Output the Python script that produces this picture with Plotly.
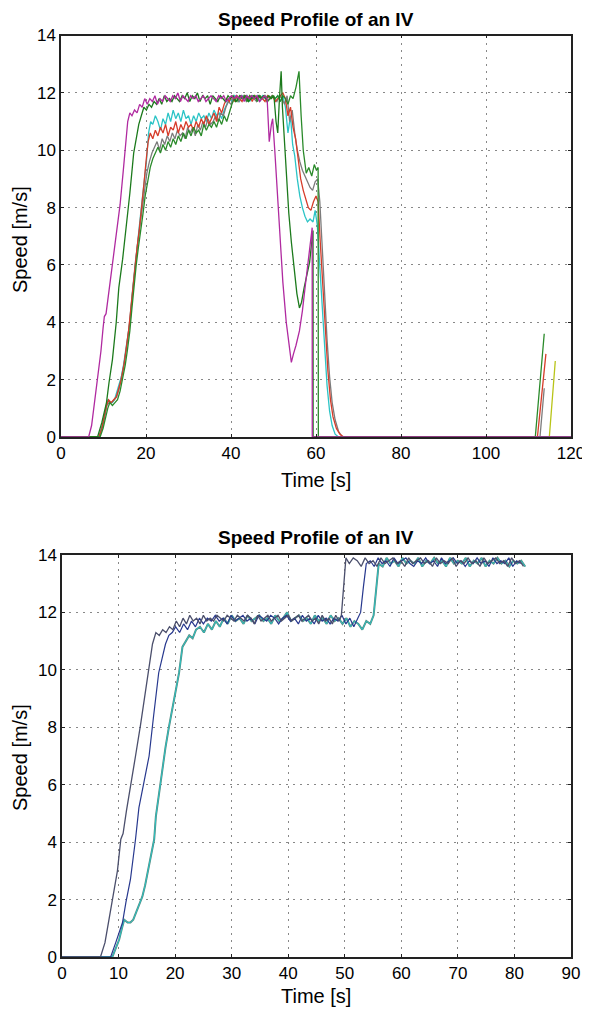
import plotly.graph_objects as go

# ---------------- TOP CHART DATA ----------------
A_t = [0, 6.5, 7.2, 8.0, 8.8, 9.4, 9.9, 10.2, 10.6, 11.2, 12.1, 13.0, 13.9, 14.6, 15.2, 15.7, 16.2,
       16.7, 17.3, 17.9, 18.5, 19.1, 19.7, 20.3, 20.9, 21.5, 22.1, 22.7, 23.3, 23.9, 24.5, 25.1, 25.7,
       26.3, 26.9, 27.5, 28.1, 28.7, 29.3, 29.9, 30.5, 31.1, 31.7, 32.3, 32.9, 33.5, 34.1, 34.7, 35.3,
       35.9, 36.5, 37.1, 37.7, 38.3, 38.9, 39.5, 40.1, 40.7, 41.3, 41.9, 42.5, 43.1, 43.7, 44.3, 44.9,
       45.5, 46.1, 46.7, 47.3, 47.9, 48.5, 49.0, 49.5, 49.8, 50.3, 51.0, 51.6, 52.2, 53.0, 53.6, 54.2,
       54.7, 55.3, 56.1, 56.8, 57.5, 58.2, 58.9, 59.1, 59.12, 120]
A_v = [0, 0, 0.4, 1.3, 2.3, 3.0, 3.8, 4.2, 4.3, 5.0, 6.1, 7.0, 8.1, 9.2, 10.1, 11.0, 11.3,
       11.2, 11.4, 11.3, 11.6, 11.5, 11.8, 11.6, 11.8, 11.7, 11.9, 11.6, 11.8, 11.7, 11.9, 11.8, 11.7,
       11.9, 11.8, 12.0, 11.7, 11.9, 11.8, 11.7, 11.9, 11.8, 11.9, 11.7, 11.8, 11.9, 11.7, 11.8, 11.9,
       11.8, 11.7, 11.9, 11.8, 11.9, 11.7, 11.8, 11.9, 11.8, 11.9, 11.8, 11.9, 11.7, 11.9, 11.8, 11.9,
       11.8, 11.9, 11.7, 11.8, 11.9, 11.8, 10.3, 10.9, 11.1, 10.0, 8.2, 6.6, 5.4, 4.0, 3.2, 2.6,
       2.9, 3.2, 3.7, 4.4, 5.3, 6.2, 7.2, 7.3, 0, 0]

B_t = [0, 8.6, 9.6, 10.7, 11.3, 12.1, 13.0, 13.6, 14.5, 15.3, 16.2, 17.1, 17.7, 18.3, 18.9, 19.5,
       20.1, 20.7, 21.3, 21.9, 22.5, 23.1, 23.7, 24.3, 24.9, 25.5, 26.1, 26.7, 27.3, 27.9, 28.5, 29.1,
       29.7, 30.3, 30.9, 31.5, 32.1, 32.7, 33.3, 33.9, 34.5, 35.1, 35.7, 36.3, 36.9, 37.5, 38.1, 38.7,
       39.3, 39.9, 40.5, 41.1, 41.7, 42.3, 42.9, 43.5, 44.1, 44.7, 45.3, 45.9, 46.5, 47.1, 47.7, 48.3,
       48.9, 49.5, 50.1, 50.6, 51.0, 51.4, 51.8, 52.1, 52.5, 53.0, 53.6, 54.2, 54.8, 55.5, 56.1, 56.6,
       57.2, 57.9, 58.5, 59.0, 59.3, 59.32, 120]
B_v = [0, 0, 0.5, 1.2, 1.9, 2.7, 4.0, 5.2, 6.2, 7.2, 8.5, 9.9, 10.4, 10.9, 11.2, 11.5,
       11.4, 11.6, 11.5, 11.7, 11.6, 11.8, 11.6, 11.9, 11.7, 11.8, 11.7, 11.9, 11.8, 11.7, 11.9, 11.8,
       12.0, 11.7, 11.9, 11.8, 12.0, 11.7, 11.9, 11.8, 11.9, 11.6, 11.9, 11.8, 11.7, 11.9, 11.8, 11.7,
       11.9, 11.8, 11.9, 11.7, 11.8, 11.9, 11.8, 11.9, 11.7, 11.8, 11.9, 11.8, 11.9, 11.8, 11.9, 11.8,
       11.9, 11.8, 11.9, 11.0, 10.6, 11.8, 12.75, 11.5, 10.5, 9.2, 7.8, 6.8, 5.9, 5.0, 4.5, 4.7,
       5.2, 5.7, 6.1, 6.8, 7.2, 0, 0]

C_t = [0, 9.2, 9.9, 10.5, 11.0, 11.5, 12.1, 12.7, 13.3, 13.9, 14.5, 15.1, 15.6, 16.2, 16.7, 17.2,
       17.7, 18.2, 18.7, 19.3, 19.8, 20.4, 21.0, 21.6,
       22.2, 22.8, 23.4, 24.0, 24.6, 25.2, 25.8, 26.4, 27.0, 27.6, 28.2, 28.8, 29.4, 30.0, 30.6, 31.2,
       31.8, 32.4, 33.0, 33.6, 34.2, 34.8, 35.4, 36.0, 36.6, 37.2, 37.8, 38.4, 39.0, 39.6, 40.2, 40.8,
       41.4, 42.0, 42.6, 43.2, 43.8, 44.4, 45.0, 45.6, 46.2, 46.8, 47.4, 48.0, 48.6, 49.2, 49.8, 50.4,
       51.0, 51.6, 52.2, 52.8, 53.4, 54.0, 54.6, 55.3, 56.0, 56.5, 57.0, 57.7, 58.3, 59.0, 59.6, 60.1,
       60.5, 60.55, 111.6, 113.7]
C_v = [0, 0, 0.3, 0.7, 1.0, 1.2, 1.1, 1.2, 1.3, 1.6, 2.0, 2.5, 3.0, 3.7, 4.5, 5.3,
       6.0, 6.6, 7.1, 7.8, 8.4, 8.9, 9.4, 9.7,
       9.9, 10.1, 9.9, 10.2, 10.0, 10.3, 10.1, 10.4, 10.2, 10.5, 10.3, 10.6, 10.4, 10.7, 10.5, 10.8,
       10.6, 10.7, 10.5, 10.9, 10.7, 10.9, 10.8, 11.0, 10.8, 11.1, 10.9, 11.2, 11.0, 11.3, 11.6, 11.8,
       11.7, 11.9, 11.8, 11.9, 11.7, 11.9, 11.8, 11.9, 11.7, 11.9, 11.8, 11.9, 11.7, 11.8, 11.9, 11.8,
       11.9, 11.7, 11.9, 11.8, 11.6, 11.9, 11.8, 12.2, 12.75, 11.2, 10.0, 9.2, 9.4, 9.1, 9.5, 9.3,
       9.4, 0, 0, 3.6]

D_t = [0, 9.0, 9.7, 10.3, 10.8, 11.3, 11.9, 12.5, 13.1, 13.7, 14.3, 14.9, 15.4, 16.0, 16.5, 17.0,
       17.5, 18.0, 18.5, 19.1, 19.6, 20.2, 20.8, 21.4, 22.0,
       22.6, 23.2, 23.8, 24.4, 25.0, 25.6, 26.2, 26.8, 27.4, 28.0, 28.6, 29.2, 29.8, 30.4, 31.0, 31.6,
       32.2, 32.8, 33.4, 34.0, 34.6, 35.2, 35.8, 36.4, 37.0, 37.6, 38.2, 38.8, 39.4, 40.0, 40.6, 41.2,
       41.8, 42.4, 43.0, 43.6, 44.2, 44.8, 45.4, 46.0, 46.6, 47.2, 47.8, 48.4, 49.0, 49.6, 50.2, 50.8,
       51.4, 52.0, 52.6, 53.2, 53.8, 54.4, 55.0, 55.6, 56.2, 56.8, 57.4, 58.0, 58.6, 59.2, 59.8, 60.4,
       60.9, 61.4, 62.0, 62.6, 63.2, 63.8, 64.5, 65.3, 66.2, 112.7, 113.7]
D_v = [0, 0, 0.3, 0.7, 1.1, 1.2, 1.2, 1.3, 1.4, 1.7, 2.1, 2.6, 3.1, 3.8, 4.6, 5.4,
       6.1, 6.7, 7.3, 8.0, 8.6, 9.2, 9.6, 9.9, 10.1,
       10.3, 10.0, 10.4, 10.2, 10.5, 10.3, 10.6, 10.4, 10.7, 10.5, 10.6, 10.4, 10.8, 10.6, 10.8, 10.5,
       10.9, 10.7, 11.0, 10.8, 11.1, 10.9, 11.0, 11.2, 11.0, 11.3, 11.2, 11.5, 11.7, 11.6, 11.8, 11.9,
       11.7, 11.8, 11.9, 11.7, 11.8, 11.9, 11.8, 11.7, 11.9, 11.8, 11.9, 11.7, 11.8, 11.9, 11.8, 11.7,
       11.9, 11.8, 11.6, 11.9, 11.0, 11.4, 10.6, 10.0, 9.6, 9.3, 9.1, 8.9, 8.7, 8.6, 8.9, 9.0,
       8.2, 6.8, 5.0, 3.4, 2.1, 1.2, 0.6, 0.2, 0, 0, 1.7]

E_t = [0, 8.9, 9.6, 10.2, 10.7, 11.2, 11.8, 12.4, 13.0, 13.6, 14.2, 14.8, 15.3, 15.9, 16.4, 16.9,
       17.4, 17.9, 18.4, 19.0, 19.5, 20.0,
       20.5, 21.0, 21.6, 22.2, 22.8, 23.4, 24.0, 24.6, 25.2, 25.8, 26.4, 27.0, 27.6, 28.2, 28.8, 29.4,
       30.0, 30.6, 31.2, 31.8, 32.4, 33.0, 33.6, 34.2, 34.8, 35.4, 36.0, 36.6, 37.2, 37.8, 38.4, 39.0,
       39.6, 40.2, 40.8, 41.4, 42.0, 42.6, 43.2, 43.8, 44.4, 45.0, 45.6, 46.2, 46.8, 47.4, 48.0, 48.6,
       49.2, 49.8, 50.4, 51.0, 51.6, 52.2, 52.8, 53.4, 54.0, 54.6, 55.2, 55.8, 56.4, 57.0, 57.6, 58.2,
       58.8, 59.4, 60.0, 60.5, 61.0, 61.6, 62.2, 62.8, 63.4, 64.0, 64.8, 65.6, 66.5, 112.1, 114.1]
E_v = [0, 0, 0.3, 0.7, 1.1, 1.3, 1.2, 1.3, 1.4, 1.7, 2.0, 2.5, 3.0, 3.7, 4.4, 5.2,
       6.0, 6.6, 7.2, 8.0, 8.8, 9.6,
       10.3, 10.6, 10.4, 10.7, 10.5, 10.8, 10.6, 10.9, 10.5, 10.8, 10.7, 11.0, 10.6, 10.9, 10.7, 11.0,
       10.8, 10.9, 10.7, 11.0, 10.8, 11.1, 10.9, 11.2, 10.9, 11.1, 11.3, 11.0, 11.5, 11.3, 11.6, 11.8,
       11.7, 11.9, 11.7, 11.9, 11.8, 11.7, 11.9, 11.8, 11.9, 11.7, 11.9, 11.8, 11.9, 11.8, 11.7, 11.9,
       11.8, 11.9, 11.7, 11.8, 11.9, 12.0, 11.8, 11.2, 11.5, 10.8, 10.4, 9.6, 9.0, 8.6, 8.3, 8.0,
       7.9, 8.2, 8.4, 8.2, 6.8, 5.2, 3.6, 2.3, 1.3, 0.7, 0.3, 0.1, 0, 0, 2.9]

F_t = [0, 8.9, 9.5, 10.1, 10.6, 11.0, 11.6, 12.1, 12.6, 13.0, 13.6, 14.2, 14.7, 15.1, 15.7, 16.3,
       16.8, 17.3, 17.8, 18.4, 18.9, 19.5, 20.1, 20.6,
       21.1, 21.6, 22.2, 22.8, 23.4, 24.0, 24.6, 25.2, 25.8, 26.4, 27.0, 27.6, 28.2, 28.8, 29.4, 30.0,
       30.6, 31.2, 31.8, 32.4, 33.0, 33.6, 34.2, 34.8, 35.4, 36.0, 36.6, 37.2, 37.8, 38.4, 39.0, 39.6,
       40.2, 40.8, 41.4, 42.0, 42.6, 43.2, 43.8, 44.4, 45.0, 45.6, 46.2, 46.8, 47.4, 48.0, 48.6, 49.2,
       49.8, 50.4, 51.0, 51.6, 52.2, 52.8, 53.4, 54.0, 54.5, 55.0, 55.6, 56.2, 56.8, 57.4, 58.0, 58.6,
       59.3, 59.8, 60.3, 60.8, 61.4, 62.0, 62.6, 63.2, 63.8, 64.5, 65.3, 120]
F_v = [0, 0, 0.3, 0.6, 1.0, 1.3, 1.2, 1.2, 1.3, 1.5, 1.8, 2.1, 2.5, 2.9, 3.5, 4.1,
       5.0, 5.8, 6.5, 7.3, 8.0, 8.7, 9.6, 10.6,
       11.0, 10.9, 11.2, 11.0, 10.7, 11.1, 10.9, 11.3, 11.0, 11.4, 11.1, 11.3, 11.0, 11.4, 11.1, 11.2,
       10.9, 11.2, 11.0, 11.3, 11.1, 11.2, 11.0, 11.3, 11.1, 11.4, 11.2, 11.3, 11.1, 11.4, 11.6, 11.8,
       11.7, 11.9, 11.8, 11.7, 11.9, 11.8, 11.9, 11.7, 11.9, 11.8, 11.9, 11.7, 11.9, 11.8, 11.9, 11.8,
       11.9, 11.8, 11.9, 11.7, 11.9, 11.5, 10.6, 11.2, 10.2, 9.8, 9.0, 8.4, 8.0, 7.7, 7.5, 7.6,
       7.5, 7.9, 7.4, 6.2, 4.5, 3.0, 1.8, 0.9, 0.4, 0.1, 0, 0]

G_t = [100, 114.9, 116.3]
G_v = [0, 0, 2.65]

# ---------------- BOTTOM CHART DATA ----------------
P_t = [0, 6.8, 7.6, 8.4, 9.1, 9.8, 10.4, 10.8, 11.4, 12.1, 13.0, 13.9, 14.7, 15.4, 16.0, 16.6,
       17.2, 17.8, 18.4, 19.0, 19.6, 20.2, 20.8, 21.4, 22.0, 22.6, 23.2, 23.8, 24.4, 25.0, 25.6, 26.2,
       26.8, 27.4, 28.0, 28.6, 29.2, 29.8, 30.4, 31.0, 31.6, 32.2, 32.8, 33.4, 34.0, 34.6, 35.2, 35.8,
       36.4, 37.0, 37.6, 38.2, 38.8, 39.4, 40.0, 40.6, 41.2, 41.8, 42.4, 43.0, 43.6, 44.2, 44.8, 45.4,
       46.0, 46.6, 47.2, 47.8, 48.4, 49.0, 49.4, 49.8, 50.2,
       50.8, 51.5, 52.2, 52.9, 53.6, 54.3, 55.0, 55.7, 56.4, 57.1, 57.8, 58.5, 59.2, 59.9, 60.6, 61.3,
       62.0, 62.7, 63.4, 64.1, 64.8, 65.5, 66.2, 66.9, 67.6, 68.3, 69.0, 69.7, 70.4, 71.1, 71.8, 72.5,
       73.2, 73.9, 74.6, 75.3, 76.0, 76.7, 77.4, 78.1, 78.8, 79.5, 80.2, 80.9, 81.6]
P_v = [0, 0, 0.5, 1.4, 2.3, 3.0, 4.1, 4.3, 5.1, 6.0, 7.0, 8.1, 9.2, 10.2, 10.9, 11.3,
       11.2, 11.4, 11.3, 11.5, 11.4, 11.7, 11.5, 11.8, 11.6, 11.9, 11.7, 11.8, 11.6, 11.9, 11.7, 11.8,
       11.7, 11.9, 11.8, 11.7, 11.9, 11.8, 11.7, 11.9, 11.8, 11.7, 11.9, 11.8, 11.6, 11.9, 11.7, 11.8,
       11.9, 11.7, 11.8, 11.9, 11.7, 11.8, 11.9, 11.7, 11.8, 11.9, 11.7, 11.8, 11.9, 11.7, 11.8, 11.6,
       11.9, 11.7, 11.8, 11.6, 11.9, 11.7, 11.9, 12.9, 13.9,
       13.7, 13.9, 13.8, 13.6, 13.9, 13.7, 13.8, 13.6, 13.9, 13.7, 13.8, 13.9, 13.7, 13.8, 13.6, 13.9,
       13.7, 13.8, 13.9, 13.7, 13.8, 13.6, 13.9, 13.7, 13.8, 13.7, 13.9, 13.6, 13.8, 13.7, 13.9, 13.7,
       13.8, 13.6, 13.9, 13.7, 13.8, 13.9, 13.7, 13.8, 13.6, 13.9, 13.7, 13.8, 13.6]

Q_t = [0, 8.6, 9.5, 10.7, 11.3, 12.1, 13.0, 13.6, 14.5, 15.4, 16.2, 17.1, 17.7, 18.3, 18.9, 19.5,
       20.1, 20.8, 21.5, 22.2, 22.9, 23.6, 24.3, 25.0, 25.7, 26.4, 27.1, 27.8, 28.5, 29.2, 29.9, 30.6,
       31.3, 32.0, 32.7, 33.4, 34.1, 34.8, 35.5, 36.2, 36.9, 37.6, 38.3, 39.0, 39.7, 40.4, 41.1, 41.8,
       42.5, 43.2, 43.9, 44.6, 45.3, 46.0, 46.7, 47.4, 48.1, 48.8, 49.5, 50.2, 50.9, 51.6, 52.3, 52.8,
       53.3, 53.8, 54.5, 55.2, 55.9, 56.6, 57.3, 58.0, 58.7, 59.4, 60.1, 60.8, 61.5, 62.2, 62.9, 63.6,
       64.3, 65.0, 65.7, 66.4, 67.1, 67.8, 68.5, 69.2, 69.9, 70.6, 71.3, 72.0, 72.7, 73.4, 74.1, 74.8,
       75.5, 76.2, 76.9, 77.6, 78.3, 79.0, 79.7, 80.4, 81.1]
Q_v = [0, 0, 0.5, 1.2, 1.9, 2.7, 4.1, 5.2, 6.1, 7.0, 8.4, 9.9, 10.4, 10.9, 11.2, 11.3,
       11.5, 11.3, 11.6, 11.4, 11.7, 11.5, 11.8, 11.6, 11.8, 11.7, 11.9, 11.7, 11.8, 11.6, 11.9, 11.7,
       11.8, 11.9, 11.7, 11.8, 11.6, 11.9, 11.8, 11.7, 11.9, 11.8, 11.6, 11.8, 11.9, 11.7, 11.8, 11.6,
       11.9, 11.7, 11.8, 11.6, 11.9, 11.7, 11.8, 11.6, 11.8, 11.7, 11.9, 11.6, 11.8, 11.5, 11.8, 12.0,
       12.9, 13.7, 13.8, 13.6, 13.9, 13.7, 13.8, 13.6, 13.9, 13.7, 13.8, 13.9, 13.7, 13.6, 13.8, 13.7,
       13.9, 13.7, 13.8, 13.6, 13.9, 13.7, 13.8, 13.9, 13.7, 13.8, 13.6, 13.8, 13.7, 13.9, 13.7, 13.8,
       13.6, 13.9, 13.7, 13.8, 13.7, 13.9, 13.6, 13.8, 13.7]

R_t = [0, 8.9, 9.5, 10.1, 10.6, 11.0, 11.6, 12.1, 12.6, 13.0, 13.6, 14.2, 14.7, 15.1, 15.7, 16.3,
       16.6, 17.2, 17.7, 18.3, 18.9, 19.5, 20.1, 20.7, 21.3, 21.9, 22.5, 23.1, 23.7,
       24.4, 25.1, 25.8, 26.5, 27.2, 27.9, 28.6, 29.3, 30.0, 30.7, 31.4, 32.1, 32.8, 33.5, 34.2, 34.9,
       35.6, 36.3, 37.0, 37.7, 38.4, 39.1, 39.8, 40.5, 41.2, 41.9, 42.6, 43.3, 44.0, 44.7, 45.4, 46.1,
       46.8, 47.5, 48.2, 48.9, 49.6, 50.3, 51.0, 51.7, 52.4, 53.1, 53.8, 54.5, 55.1, 55.6, 56.0,
       56.7, 57.4, 58.1, 58.8, 59.5, 60.2, 60.9, 61.6, 62.3, 63.0, 63.7, 64.4, 65.1, 65.8, 66.5, 67.2,
       67.9, 68.6, 69.3, 70.0, 70.7, 71.4, 72.1, 72.8, 73.5, 74.2, 74.9, 75.6, 76.3, 77.0, 77.7, 78.4,
       79.1, 79.8, 80.5, 81.2, 81.9]
R_v = [0, 0, 0.3, 0.6, 1.0, 1.3, 1.2, 1.2, 1.3, 1.5, 1.8, 2.1, 2.5, 2.9, 3.5, 4.1,
       4.9, 5.8, 6.6, 7.3, 8.0, 8.6, 9.2, 9.9, 10.8, 11.0, 11.2, 11.1, 11.4,
       11.5, 11.3, 11.6, 11.4, 11.7, 11.5, 11.8, 11.6, 11.9, 11.7, 11.8, 11.6, 11.9, 11.7, 11.8, 11.9,
       11.7, 11.8, 11.6, 11.9, 11.7, 11.8, 12.0, 11.7, 11.8, 11.9, 11.7, 11.8, 11.6, 11.9, 11.7, 11.8,
       11.6, 11.9, 11.7, 11.8, 11.6, 11.8, 11.5, 11.7, 11.6, 11.4, 11.7, 11.6, 11.9, 12.9, 13.7,
       13.6, 13.9, 13.7, 13.8, 13.6, 13.9, 13.7, 13.8, 13.7, 13.9, 13.6, 13.8, 13.7, 13.9, 13.7, 13.8,
       13.6, 13.9, 13.7, 13.8, 13.7, 13.9, 13.6, 13.8, 13.7, 13.9, 13.6, 13.8, 13.7, 13.9, 13.7, 13.8,
       13.6, 13.8, 13.7, 13.8, 13.6]

TOP_X_TICKS = [0, 20, 40, 60, 80, 100, 120]
BOT_X_TICKS = [0, 10, 20, 30, 40, 50, 60, 70, 80, 90]
Y_TICKS = [0, 2, 4, 6, 8, 10, 12, 14]
TITLE = "Speed Profile of an IV"
X_LABEL = "Time [s]"
Y_LABEL = "Speed [m/s]"

# ---------------- FIGURE ----------------
fig = go.Figure()
W = 1.3
top_series = [
    (G_t, G_v, "#b8c418"),
    (F_t, F_v, "#2cc4c6"),
    (D_t, D_v, "#7c7c7c"),
    (E_t, E_v, "#d63c2a"),
    (C_t, C_v, "#2a8a2a"),
    (B_t, B_v, "#1c7a1c"),
    (A_t, A_v, "#b02aa0"),
]
for t, v, c in top_series:
    fig.add_trace(go.Scatter(x=t, y=v, mode="lines", line=dict(color=c, width=W),
                             xaxis="x", yaxis="y", showlegend=False))

bot_series = [
    (R_t, R_v, "#5b8a80", 2.0),
    (R_t, R_v, "#2cc2c2", 1.0),
    (Q_t, Q_v, "#27388e", 1.2),
    (P_t, P_v, "#4b4f6c", 1.3),
]
for t, v, c, w in bot_series:
    fig.add_trace(go.Scatter(x=t, y=v, mode="lines", line=dict(color=c, width=w),
                             xaxis="x2", yaxis="y2", showlegend=False))

FONT = "Liberation Sans, Arial, sans-serif"
axis_common = dict(
    showline=True, linecolor="#222222", linewidth=1.5, mirror="ticks",
    ticks="inside", ticklen=3, tickcolor="#222222",
    showgrid=True, gridcolor="#888888", griddash="2px,5px", gridwidth=1,
    zeroline=False, tickfont=dict(family=FONT, size=17, color="black"),
    automargin=False,
)

# the page is drawn 8px in from the window's top-left corner; the figure is
# kept a little smaller than the window so nothing overflows it
OFF = 8.0
FW, FH = 580, 1000


def px_x(p):
    return (p - OFF) / FW


def px_y(p):
    return 1 - (p - OFF) / FH


fig.update_layout(
    width=FW, height=FH,
    margin=dict(l=0, r=0, t=0, b=0),
    paper_bgcolor="white", plot_bgcolor="white",
    xaxis=dict(domain=[px_x(61), px_x(571)], range=[0, 120], tickvals=TOP_X_TICKS,
               anchor="y", **axis_common),
    yaxis=dict(domain=[px_y(437), px_y(35.5)], range=[0, 14], tickvals=Y_TICKS,
               anchor="x", **axis_common),
    xaxis2=dict(domain=[px_x(62), px_x(571)], range=[0, 90], tickvals=BOT_X_TICKS,
                anchor="y2", **axis_common),
    yaxis2=dict(domain=[px_y(957), px_y(555)], range=[0, 14], tickvals=Y_TICKS,
                anchor="x2", **axis_common),
)

ann = []
for (x, y, txt, ang, bold, sz) in [
    (316, 19, TITLE, 0, True, 19), (316, 537, TITLE, 0, True, 19),
    (316, 480, X_LABEL, 0, False, 20), (316, 996, X_LABEL, 0, False, 20),
    (20, 240, Y_LABEL, -90, False, 20), (20, 758, Y_LABEL, -90, False, 20),
]:
    ann.append(dict(text=("<b>%s</b>" % txt) if bold else txt, x=px_x(x), y=px_y(y),
                    xref="paper", yref="paper", xanchor="center", yanchor="middle",
                    textangle=ang, showarrow=False,
                    font=dict(family=FONT, size=sz, color="black")))
fig.update_layout(annotations=ann)

fig.write_html("out.html")
